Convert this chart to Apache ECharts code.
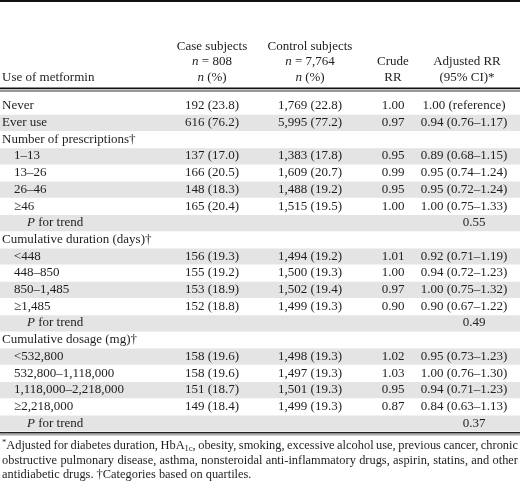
<!DOCTYPE html>
<html><head><meta charset="utf-8">
<script src="https://cdn.jsdelivr.net/npm/echarts@6/dist/echarts.min.js"></script>
<style>html,body{margin:0;padding:0;background:#fff}#c{width:520px;height:481px}</style>
</head><body><div id="c"></div>
<script>
// ---------- data ----------
const rowLabels = ['Never','Ever use','Number of prescriptions†','1–13','13–26','26–46','≥46','P for trend',
  'Cumulative duration (days)†','<448','448–850','850–1,485','≥1,485','P for trend',
  'Cumulative dosage (mg)†','<532,800','532,800–1,118,000','1,118,000–2,218,000','≥2,218,000','P for trend'];
const rowKinds = ['top','top','head','sub','sub','sub','sub','trend',
  'head','sub','sub','sub','sub','trend',
  'head','sub','sub','sub','sub','trend'];
const caseCount = [192,616,null,137,166,148,165,null,null,156,155,153,152,null,null,158,158,151,149,null];
const casePct   = [23.8,76.2,null,17.0,20.5,18.3,20.4,null,null,19.3,19.2,18.9,18.8,null,null,19.6,19.6,18.7,18.4,null];
const controlCount = [1769,5995,null,1383,1609,1488,1515,null,null,1494,1500,1502,1499,null,null,1498,1497,1501,1499,null];
const controlPct   = [22.8,77.2,null,17.8,20.7,19.2,19.5,null,null,19.2,19.3,19.4,19.3,null,null,19.3,19.3,19.3,19.3,null];
const crudeRR = [1.00,0.97,null,0.95,0.99,0.95,1.00,null,null,1.01,1.00,0.97,0.90,null,null,1.02,1.03,0.95,0.87,null];
const adjRR   = [1.00,0.94,null,0.89,0.95,0.95,1.00,null,null,0.92,0.94,1.00,0.90,null,null,0.95,1.00,0.94,0.84,null];
const adjLo   = [null,0.76,null,0.68,0.74,0.72,0.75,null,null,0.71,0.72,0.75,0.67,null,null,0.73,0.76,0.71,0.63,null];
const adjHi   = [null,1.17,null,1.15,1.24,1.24,1.33,null,null,1.19,1.23,1.32,1.22,null,null,1.23,1.30,1.23,1.13,null];
const pTrend  = [null,null,null,null,null,null,null,0.55,null,null,null,null,null,0.49,null,null,null,null,null,0.37];
const caseN = 808, controlN = 7764;
const footLines = [
  '*Adjusted for diabetes duration, HbA1c, obesity, smoking, excessive alcohol use, previous cancer, chronic',
  'obstructive pulmonary disease, asthma, nonsteroidal anti-inflammatory drugs, aspirin, statins, and other',
  'antidiabetic drugs. †Categories based on quartiles.'
];

// ---------- style ----------
const FONT = 'Liberation Serif';
const INK = '#1e1e1e';
const BAND = '#e4e4e4';
const FS = 13;
const W = 520;
const COL = {caseX: 212, ctrlX: 310, crudeX: 393, adjX: 464, adjHeadX: 467, pX: 474};

function fmtInt(n){ return String(n).replace(/\B(?=(\d{3})+(?!\d))/g, ','); }
function cnt(c, p){ return c == null ? '' : fmtInt(c) + ' (' + p.toFixed(1) + ')'; }
function adj(i){
  if (adjRR[i] == null) return '';
  if (adjLo[i] == null) return adjRR[i].toFixed(2) + ' (reference)';
  return adjRR[i].toFixed(2) + ' (' + adjLo[i].toFixed(2) + '–' + adjHi[i].toFixed(2) + ')';
}

const chart = echarts.init(document.getElementById('c'), null, {renderer: 'canvas', width: W, height: 481});

function txt(text, x, y, align, extra){
  return Object.assign({type: 'text', x: x, y: y, silent: true,
    style: Object.assign({text: text, fill: INK, fontFamily: FONT, fontSize: FS,
      align: align, textAlign: align, verticalAlign: 'middle', textVerticalAlign: 'middle',
      rich: {i: {fontStyle: 'italic', fontFamily: FONT, fontSize: FS, fill: INK},
             r: {fontFamily: FONT, fontSize: FS, fill: INK}}}, extra || {})});
}

// header
const graphics = [];
graphics.push({type: 'rect', shape: {x: 0, y: 0, width: W, height: 2}, style: {fill: '#111'}, silent: true});
graphics.push(txt('Case subjects', COL.caseX, 47, 'center'));
graphics.push(txt('{i|n}{r| = ' + fmtInt(caseN) + '}', COL.caseX, 62, 'center'));
graphics.push(txt('{i|n}{r| (%)}', COL.caseX, 78, 'center'));
graphics.push(txt('Control subjects', COL.ctrlX, 47, 'center'));
graphics.push(txt('{i|n}{r| = ' + fmtInt(controlN) + '}', COL.ctrlX, 62, 'center'));
graphics.push(txt('{i|n}{r| (%)}', COL.ctrlX, 78, 'center'));
graphics.push(txt('Crude', COL.crudeX, 62, 'center'));
graphics.push(txt('RR', COL.crudeX, 78, 'center'));
graphics.push(txt('Adjusted RR', COL.adjHeadX, 62, 'center'));
graphics.push(txt('(95% CI)*', COL.adjHeadX, 78, 'center'));
graphics.push(txt('Use of metformin', 2, 78, 'left'));
graphics.push({type: 'rect', shape: {x: 0, y: 87.4, width: W, height: 1.8}, style: {fill: '#111'}, silent: true});
graphics.push({type: 'rect', shape: {x: 0, y: 90.6, width: W, height: 0.8}, style: {fill: '#333'}, silent: true});
graphics.push({type: 'rect', shape: {x: 0, y: 431.9, width: W, height: 1.6}, style: {fill: '#222'}, silent: true});
graphics.push({type: 'rect', shape: {x: 0, y: 434.4, width: W, height: 0.8}, style: {fill: '#555'}, silent: true});

// footnote (justified)
const FFS = 12.4, SUBFS = 8.5;
const ctx = document.createElement('canvas').getContext('2d');
function measure(t, size){ ctx.font = size + 'px "' + FONT + '"'; return ctx.measureText(t).width; }
function wordInfo(w){
  if (w.indexOf('HbA1c') === 0) {
    const rest = w.slice(5);
    return {rich: '{n|HbA}{s|1c}{n|' + rest + '}', width: measure('HbA', FFS) + measure('1c', SUBFS) + measure(rest, FFS)};
  }
  if (w.charAt(0) === '*') {
    return {rich: '{s2|*}{n|' + w.slice(1) + '}', width: measure('*', SUBFS) + measure(w.slice(1), FFS)};
  }
  return {rich: '{n|' + w + '}', width: measure(w, FFS)};
}
const footY = [445.5, 460.5, 475];
footLines.forEach(function(line, li){
  const words = line.split(' ').map(wordInfo);
  const total = words.reduce(function(s, w){ return s + w.width; }, 0);
  const spaceW = measure(' ', FFS);
  const left = 2, right = 518;
  const justify = li < footLines.length - 1;
  const gap = justify ? (right - left - total) / (words.length - 1) : spaceW;
  let x = left;
  words.forEach(function(w){
    graphics.push({type: 'text', x: x, y: footY[li], silent: true,
      style: {text: w.rich, fill: INK, fontFamily: FONT, fontSize: FFS, align: 'left', textAlign: 'left',
        verticalAlign: 'middle', textVerticalAlign: 'middle',
        rich: {n: {fontFamily: FONT, fontSize: FFS, fill: INK, lineHeight: 15},
               s: {fontFamily: FONT, fontSize: SUBFS, fill: INK, lineHeight: 9, verticalAlign: 'bottom'},
               s2: {fontFamily: FONT, fontSize: SUBFS, fill: INK, lineHeight: 9, verticalAlign: 'top'}}}});
    x += w.width + gap;
  });
});

const ROW_TOP = 97.6, ROW_H = 16.7;

chart.setOption({
  animation: false,
  grid: {left: 0, right: 0, top: ROW_TOP, height: ROW_H * rowLabels.length, containLabel: false},
  xAxis: {type: 'value', min: 0, max: W, show: false},
  yAxis: {type: 'category', data: rowLabels, inverse: true, show: false},
  graphic: graphics,
  series: [{
    type: 'custom',
    silent: true,
    encode: {x: 0, y: 1},
    data: rowLabels.map(function(_, i){ return [0, i]; }),
    renderItem: function(params, api){
      const i = api.value(1);
      const c = api.coord([0, i]);
      const h = api.size([0, 1])[1];
      const cy = c[1];
      const kids = [];
      if (i % 2 === 1) {
        kids.push({type: 'rect', shape: {x: params.coordSys.x, y: cy - h / 2 + 0.5, width: params.coordSys.width, height: h - 0.5}, style: {fill: BAND}});
      }
      const kind = rowKinds[i];
      const X = function(v){ return api.coord([v, i])[0]; };
      if (kind === 'trend') {
        kids.push(txt('{i|P}{r| for trend}', X(27), cy, 'left'));
        kids.push(txt(pTrend[i].toFixed(2), X(COL.pX), cy, 'center'));
      } else {
        kids.push(txt(rowLabels[i], X(kind === 'sub' ? 14 : 2), cy, 'left'));
        if (caseCount[i] != null) {
          kids.push(txt(cnt(caseCount[i], casePct[i]), X(COL.caseX), cy, 'center'));
          kids.push(txt(cnt(controlCount[i], controlPct[i]), X(COL.ctrlX), cy, 'center'));
          kids.push(txt(crudeRR[i].toFixed(2), X(COL.crudeX), cy, 'center'));
          kids.push(txt(adj(i), X(COL.adjX), cy, 'center'));
        }
      }
      return {type: 'group', children: kids};
    }
  }]
});
</script>
</body></html>
